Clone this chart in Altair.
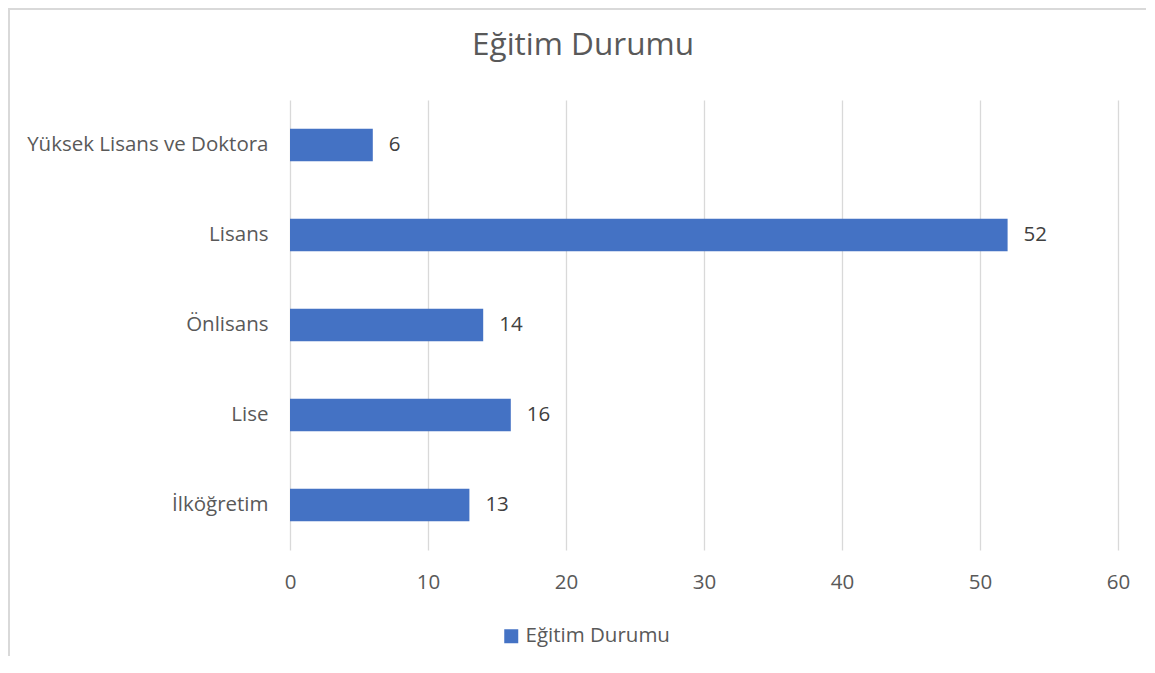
import altair as alt
import pandas as pd

categories = ["Yüksek Lisans ve Doktora", "Lisans", "Önlisans", "Lise", "İlköğretim"]
values = [6, 52, 14, 16, 13]
series_name = "Eğitim Durumu"
title_text = "Eğitim Durumu"

df = pd.DataFrame({"kategori": categories, "deger": values, "seri": [series_name] * len(values)})

FONT = "Open Sans"
GRAY = "#595959"
BLUE = "#4472C4"
FS = 20.5

y_enc = alt.Y("kategori:N", sort=categories,
              scale=alt.Scale(paddingInner=0.64, paddingOuter=0.32),
              axis=alt.Axis(title=None, labelFont=FONT, labelFontSize=FS, labelColor=GRAY,
                            ticks=False, domain=False, labelPadding=22, grid=False,
                            labelLimit=0))
x_enc = alt.X("deger:Q", scale=alt.Scale(domain=[0, 60], nice=False),
              axis=alt.Axis(title=None, values=[0, 10, 20, 30, 40, 50, 60],
                            labelFont=FONT, labelFontSize=FS, labelColor=GRAY,
                            labelFlush=False,
                            ticks=False, domain=False, grid=True, gridColor="#d9d9d9",
                            gridWidth=1.3, labelPadding=22))

bars = alt.Chart(df).mark_bar(color=BLUE).encode(
    x=x_enc, y=y_enc,
    color=alt.Color("seri:N", scale=alt.Scale(range=[BLUE]),
                    legend=alt.Legend(title=None, orient="none", legendX=211, legendY=526,
                                      symbolType="square", symbolSize=196,
                                      symbolStrokeWidth=0,
                                      labelFont=FONT, labelFontSize=FS, labelColor=GRAY,
                                      labelOffset=4)),
)

labels = alt.Chart(df).mark_text(align="left", baseline="middle", dx=16,
                                 font=FONT, fontSize=FS, color="#404040").encode(
    x="deger:Q", y=alt.Y("kategori:N", sort=categories), text="deger:Q")

title_df = pd.DataFrame({"t": [title_text]})
title = alt.Chart(title_df).mark_text(align="center", baseline="middle", font=FONT,
                                      fontSize=31.5, color=GRAY).encode(
    x=alt.value(293), y=alt.value(-54), text="t:N")

border_df = pd.DataFrame({"b": [1]})
border = alt.Chart(border_df).mark_rect(fill=None, stroke="#d9d9d9", strokeWidth=2).encode(
    x=alt.value(-281), y=alt.value(-91), x2=alt.value(1000), y2=alt.value(800))

chart = alt.layer(border, bars, labels, title).properties(
    width=828, height=450,
    autosize=alt.AutoSizeParams(type="none"),
    padding={"left": 282, "top": 92, "right": 28, "bottom": 106},
).configure_view(stroke=None)

chart.save("out.html", embed_options={"renderer": "svg", "actions": False})
